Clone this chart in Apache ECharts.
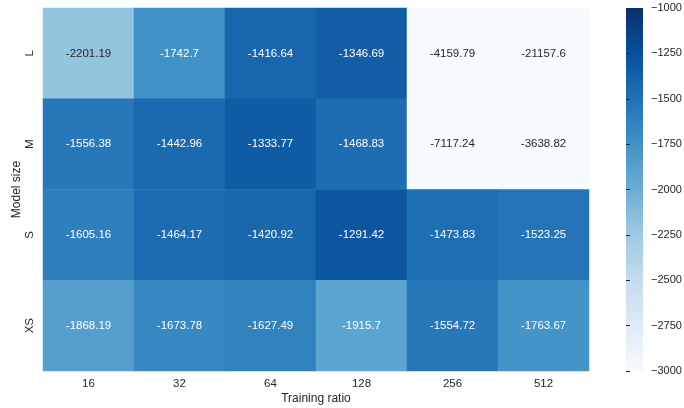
<!DOCTYPE html>
<html>
<head>
<meta charset="utf-8">
<script src="https://cdn.jsdelivr.net/npm/echarts@6/dist/echarts.min.js"></script>
<style>html,body{margin:0;padding:0;background:#fff}#c{width:684px;height:408px}</style>
</head>
<body>
<div id="c"></div>
<script>
var trainingRatios = ['16', '32', '64', '128', '256', '512'];
var modelSizes = ['L', 'M', 'S', 'XS'];
var rowL  = [-2201.19, -1742.7, -1416.64, -1346.69, -4159.79, -21157.6];
var rowM  = [-1556.38, -1442.96, -1333.77, -1468.83, -7117.24, -3638.82];
var rowS  = [-1605.16, -1464.17, -1420.92, -1291.42, -1473.83, -1523.25];
var rowXS = [-1868.19, -1673.78, -1627.49, -1915.7, -1554.72, -1763.67];
var colorbarTicks = [-3000, -2750, -2500, -2250, -2000, -1750, -1500, -1250, -1000];

var rows = [rowL, rowM, rowS, rowXS];
var blues = ['#f7fbff','#deebf7','#c6dbef','#9ecae1','#6baed6','#4292c6','#2171b5','#08519c','#08306b'];
var vmin = -3000, vmax = -1000;

function hexToRgb(h){return [parseInt(h.substr(1,2),16),parseInt(h.substr(3,2),16),parseInt(h.substr(5,2),16)];}
function cmap(v){
  var t = (v - vmin) / (vmax - vmin); t = Math.max(0, Math.min(1, t));
  var p = t * (blues.length - 1); var i = Math.min(Math.floor(p), blues.length - 2); var f = p - i;
  var a = hexToRgb(blues[i]), b = hexToRgb(blues[i+1]);
  return [0,1,2].map(function(k){return a[k] + (b[k]-a[k])*f;});
}
function lum(rgb){
  var c = rgb.map(function(x){x/=255;return x<=0.03928?x/12.92:Math.pow((x+0.055)/1.055,2.4);});
  return 0.2126*c[0]+0.7152*c[1]+0.0722*c[2];
}

var data = [];
rows.forEach(function(row, r){
  row.forEach(function(v, c){
    var dark = lum(cmap(v)) > 0.408;
    data.push({value:[c, r, v], label:{color: dark ? '#262626' : '#ffffff'}});
  });
});

var chart = echarts.init(document.getElementById('c'), null, {renderer:'canvas'});
var font = 'Liberation Sans, Arial, sans-serif';
var gridL = 43, gridT = 8, gridW = 546, gridH = 363;
var cbL = 626, cbW = 17;

chart.setOption({
  backgroundColor: '#ffffff',
  animation: false,
  textStyle: {fontFamily: font},
  grid: [
    {left: gridL, top: gridT, width: gridW, height: gridH, containLabel: false, outerBoundsMode: 'none'},
    {left: cbL, top: gridT, width: cbW, height: gridH, containLabel: false, outerBoundsMode: 'none'}
  ],
  xAxis: [
    {type: 'category', data: trainingRatios, gridIndex: 0,
     axisLine:{show:false}, axisTick:{show:false}, splitLine:{show:false},
     axisLabel:{color:'#262626', fontSize:11.5, margin:7, fontFamily: font},
     name:'Training ratio', nameLocation:'middle', nameGap:22, nameMoveOverlap:false,
     nameTextStyle:{color:'#262626', fontSize:12, fontFamily: font}},
    {type: 'value', gridIndex: 1, show:false, min:0, max:1}
  ],
  yAxis: [
    {type: 'category', data: modelSizes, inverse: true, gridIndex: 0,
     axisLine:{show:false}, axisTick:{show:false}, splitLine:{show:false},
     axisLabel:{color:'#262626', fontSize:11.5, rotate:90, margin:7, fontFamily: font},
     name:'Model size', nameLocation:'middle', nameGap:20, nameRotate:90, nameMoveOverlap:false,
     nameTextStyle:{color:'#262626', fontSize:12, fontFamily: font}},
    {type: 'value', gridIndex: 1, position:'right', min: vmin, max: vmax, interval: 250,
     axisLine:{show:false}, splitLine:{show:false},
     axisTick:{show:true, length:4, lineStyle:{color:'#262626', width:1}},
     axisLabel:{color:'#262626', fontSize:11, margin:8, fontFamily: font,
       formatter: function(v){ return colorbarTicks.indexOf(v) >= 0 ? String(v).replace('-', '\u2212') : ''; }}}
  ],
  visualMap: {
    show: false, min: vmin, max: vmax, dimension: 2, seriesIndex: 0,
    inRange: {color: blues}
  },
  graphic: [{
    type:'rect', silent:true, z: -1,
    shape:{x: cbL, y: gridT, width: cbW, height: gridH},
    style:{fill: new echarts.graphic.LinearGradient(0, 1, 0, 0,
      blues.map(function(c, i){ return {offset: i/(blues.length-1), color: c}; }))}
  }],
  series: [{
    type: 'heatmap', xAxisIndex: 0, yAxisIndex: 0, data: data,
    label: {show: true, fontSize: 11.5, fontFamily: font,
      formatter: function(p){ return String(p.value[2]); }},
    itemStyle: {borderWidth: 0},
    emphasis: {disabled: true}
  }]
});
</script>
</body>
</html>
